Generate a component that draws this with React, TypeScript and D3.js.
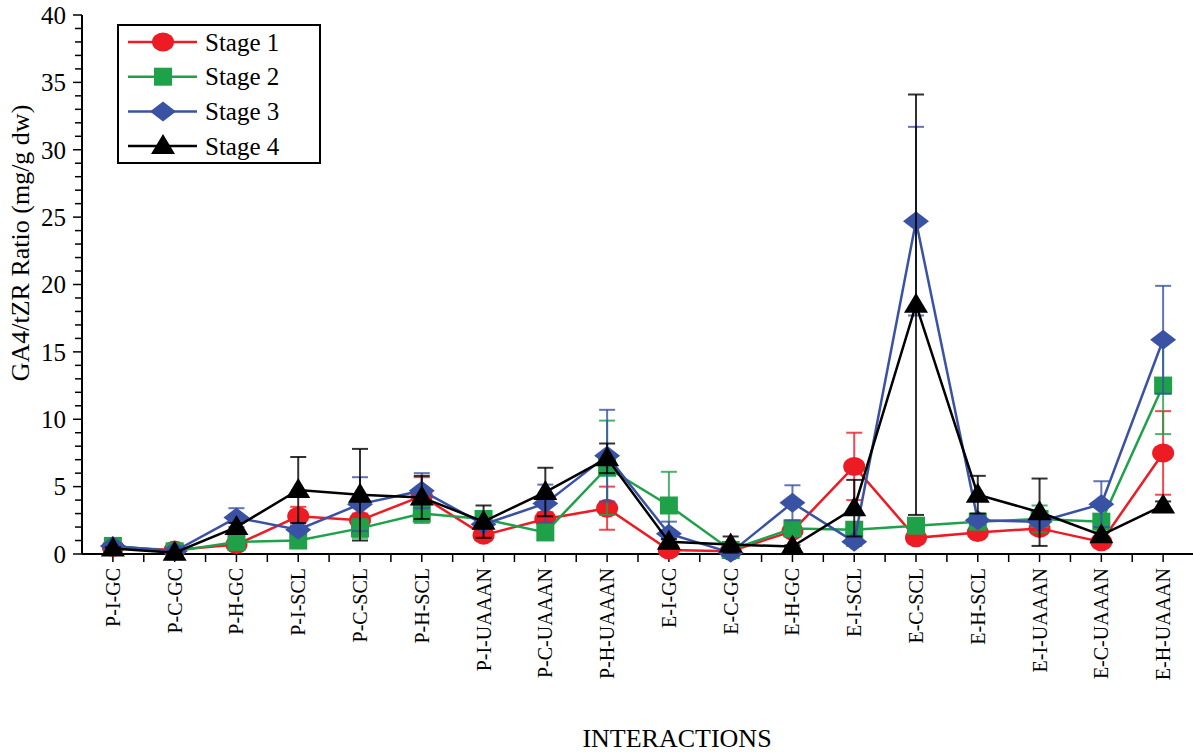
import React, { useEffect, useRef } from 'react';
import * as d3 from 'd3';

const categories = [
  'P-I-GC', 'P-C-GC', 'P-H-GC', 'P-I-SCL', 'P-C-SCL', 'P-H-SCL',
  'P-I-UAAAN', 'P-C-UAAAN', 'P-H-UAAAN', 'E-I-GC', 'E-C-GC', 'E-H-GC',
  'E-I-SCL', 'E-C-SCL', 'E-H-SCL', 'E-I-UAAAN', 'E-C-UAAAN', 'E-H-UAAAN',
];

const stage1 = [0.5, 0.3, 0.7, 2.8, 2.5, 4.3, 1.4, 2.6, 3.4, 0.3, 0.2, 1.7, 6.5, 1.2, 1.6, 1.9, 0.9, 7.5];
const stage1Err = [0.1, 0.1, 0.2, 0.7, 0.5, 1.4, 0.2, 0.5, 1.6, 0.1, 0.1, 0.3, 2.5, 0.2, 0.3, 0.4, 0.2, 3.1];
const stage2 = [0.6, 0.2, 0.9, 1.0, 1.9, 3.0, 2.6, 1.6, 6.4, 3.6, 0.3, 1.9, 1.8, 2.1, 2.4, 2.6, 2.4, 12.5];
const stage2Err = [0.1, 0.1, 0.2, 0.2, 0.7, 0.7, 0.3, 0.3, 3.5, 2.5, 0.1, 0.3, 0.3, 0.3, 0.3, 1.0, 0.4, 3.6];
const stage3 = [0.6, 0.2, 2.7, 1.8, 3.7, 4.7, 2.2, 3.75, 7.3, 1.5, 0.1, 3.8, 0.9, 24.7, 2.5, 2.4, 3.7, 15.9];
const stage3Err = [0.1, 0.1, 0.7, 0.3, 2.0, 1.3, 0.3, 1.4, 3.4, 0.9, 0.1, 1.3, 0.3, 7.0, 0.3, 0.3, 1.7, 4.0];
const stage4 = [0.4, 0.1, 2.0, 4.75, 4.4, 4.2, 2.4, 4.6, 7.1, 0.9, 0.7, 0.55, 3.4, 18.5, 4.4, 3.1, 1.4, 3.6];
const stage4Err = [0.1, 0.1, 0.3, 2.45, 3.4, 1.6, 1.2, 1.8, 1.1, 0.2, 0.6, 0.1, 2.1, 15.6, 1.4, 2.5, 0.2, 0.3];

const seriesNames = ['Stage 1', 'Stage 2', 'Stage 3', 'Stage 4'];
const seriesColors = ['#ed1c24', '#1fa14a', '#3a52a4', '#000000'];
const seriesShapes = ['circle', 'square', 'diamond', 'triangle'];
const yTicks = [0, 5, 10, 15, 20, 25, 30, 35, 40];

function markerPath(shape: string): string {
  if (shape === 'circle') {
    // slightly wide ellipse
    return 'M-11,0 A11,9.5 0 1,0 11,0 A11,9.5 0 1,0 -11,0 Z';
  }
  if (shape === 'square') return 'M-9,-9 H9 V9 H-9 Z';
  if (shape === 'diamond') return 'M0,-10 L13,0 L0,10 L-13,0 Z';
  return 'M0,-12 L12,8 L-12,8 Z';
}

export default function App() {
  const ref = useRef<SVGSVGElement>(null);

  useEffect(() => {
    const svg = d3.select(ref.current);
    svg.selectAll('*').remove();

    const left = 82, right = 1194, top = 15, bottom = 554;
    const font = '"Liberation Serif", "Times New Roman", serif';

    const x = d3.scaleBand().domain(categories).range([left, right]);
    const cx = (c: string) => (x(c) as number) + x.bandwidth() / 2;
    const y = d3.scaleLinear().domain([0, 40]).range([bottom, top]);

    const data = [
      { vals: stage1, err: stage1Err },
      { vals: stage2, err: stage2Err },
      { vals: stage3, err: stage3Err },
      { vals: stage4, err: stage4Err },
    ];

    // y axis
    const gy = svg.append('g').attr('transform', `translate(${left},0)`);
    gy.append('line').attr('x1', 0).attr('x2', 0).attr('y1', top).attr('y2', bottom)
      .attr('stroke', '#000').attr('stroke-width', 2);
    d3.range(0, 41).forEach((v) => {
      const major = v % 5 === 0;
      gy.append('line').attr('x1', major ? -9 : -7).attr('x2', 0)
        .attr('y1', y(v)).attr('y2', y(v)).attr('stroke', '#000').attr('stroke-width', 1.5);
    });
    yTicks.forEach((v) => {
      gy.append('text').attr('x', -16).attr('y', y(v)).attr('dy', '0.35em')
        .attr('text-anchor', 'end').attr('font-family', font).attr('font-size', 25)
        .text(String(v));
    });

    // x axis
    const gx = svg.append('g');
    gx.append('line').attr('x1', left).attr('x2', right).attr('y1', bottom).attr('y2', bottom)
      .attr('stroke', '#000').attr('stroke-width', 2);
    categories.forEach((c) => {
      gx.append('line').attr('x1', cx(c)).attr('x2', cx(c)).attr('y1', bottom).attr('y2', bottom + 8)
        .attr('stroke', '#000').attr('stroke-width', 1.5);
      const b = (x(c) as number) + x.bandwidth();
      gx.append('line').attr('x1', b).attr('x2', b).attr('y1', bottom).attr('y2', bottom + 8)
        .attr('stroke', '#000').attr('stroke-width', 1.5);
      gx.append('text')
        .attr('transform', `translate(${cx(c) + 7},${bottom + 14}) rotate(-90)`)
        .attr('text-anchor', 'end').attr('font-family', font).attr('font-size', 20)
        .text(c);
    });

    // titles
    svg.append('text')
      .attr('transform', `translate(29,243) rotate(-90)`)
      .attr('text-anchor', 'middle').attr('font-family', font).attr('font-size', 26)
      .text('GA4/tZR Ratio (mg/g dw)');
    svg.append('text').attr('x', 677).attr('y', 747)
      .attr('text-anchor', 'middle').attr('font-family', font).attr('font-size', 26)
      .text('INTERACTIONS');

    // series
    data.forEach((s, si) => {
      const color = seriesColors[si];
      const g = svg.append('g');
      // error bars
      s.vals.forEach((v, i) => {
        const e = s.err[i];
        const px = cx(categories[i]);
        g.append('line').attr('x1', px).attr('x2', px)
          .attr('y1', y(Math.max(0, v - e))).attr('y2', y(v + e))
          .attr('stroke', color).attr('stroke-width', 2).attr('opacity', 0.8);
        [v + e, v - e].forEach((ev) => {
          if (ev < 0) return;
          g.append('line').attr('x1', px - 8).attr('x2', px + 8)
            .attr('y1', y(ev)).attr('y2', y(ev))
            .attr('stroke', color).attr('stroke-width', 2).attr('opacity', 0.8);
        });
      });
      const line = d3.line<number>()
        .x((_, i) => cx(categories[i]))
        .y((v) => y(v));
      g.append('path').attr('d', line(s.vals) as string)
        .attr('fill', 'none').attr('stroke', color).attr('stroke-width', 2.5);
      g.selectAll('path.mk').data(s.vals).enter().append('path')
        .attr('class', 'mk')
        .attr('d', markerPath(seriesShapes[si]))
        .attr('transform', (v, i) => `translate(${cx(categories[i])},${y(v)})`)
        .attr('fill', color);
    });

    // legend
    const lg = svg.append('g');
    lg.append('rect').attr('x', 118).attr('y', 25).attr('width', 202).attr('height', 138)
      .attr('fill', '#fff').attr('stroke', '#000').attr('stroke-width', 2);
    seriesNames.forEach((n, i) => {
      const ly = 42 + i * 34.7;
      lg.append('line').attr('x1', 128).attr('x2', 197).attr('y1', ly).attr('y2', ly)
        .attr('stroke', seriesColors[i]).attr('stroke-width', 2.5);
      lg.append('path').attr('d', markerPath(seriesShapes[i]))
        .attr('transform', `translate(163,${ly})`).attr('fill', seriesColors[i]);
      lg.append('text').attr('x', 205).attr('y', ly).attr('dy', '0.35em')
        .attr('font-family', font).attr('font-size', 25).text(n);
    });
  }, []);

  return (
    <svg ref={ref} width={1193} height={752}
      style={{ position: 'absolute', left: 0, top: 0, background: '#fff' }} />
  );
}
